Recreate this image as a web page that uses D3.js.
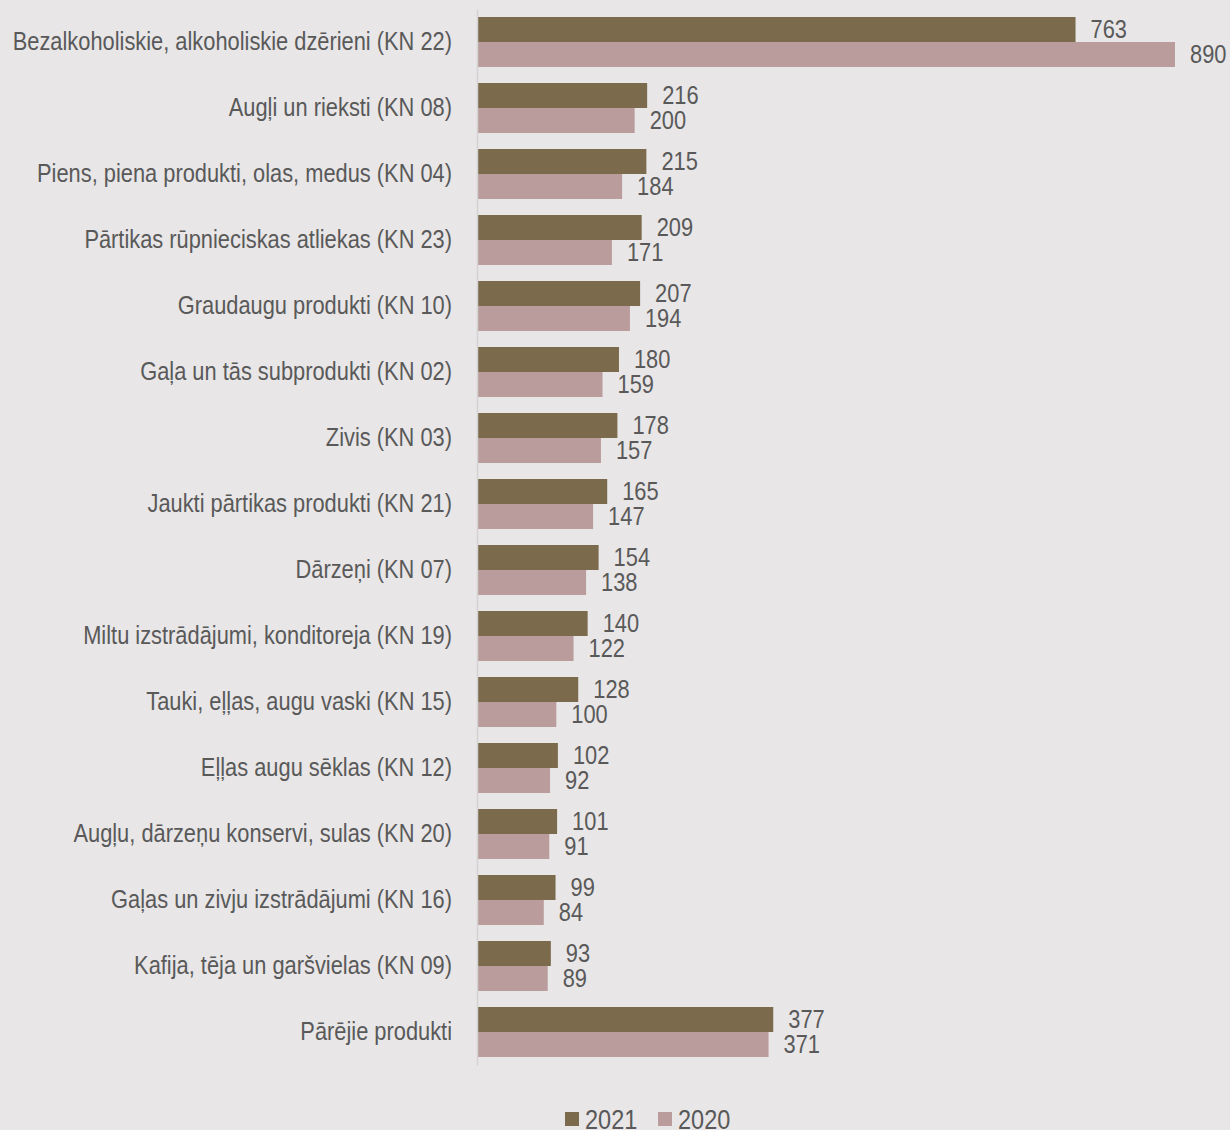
<!DOCTYPE html>
<html>
<head>
<meta charset="utf-8">
<script src="https://cdn.jsdelivr.net/npm/d3@7"></script>
<style>
  body { margin: 0; background: #e8e6e7; }
  svg { display: block; }
  text { font-family: "Liberation Sans", Arial, sans-serif; fill: #595959; }
</style>
</head>
<body>
<div id="chart"></div>
<script>
// eksports pa produktu grupām, 2021 vs 2020

const WIDTH = 1230;
const HEIGHT = 1130;
const MARGINS = {left: 478, top: 9, right: 55, bottom: 65};
const NARROW = 0.84;  // no Arial Narrow here, squeeze Liberation Sans instead

const categories = [
  "Bezalkoholiskie, alkoholiskie dzērieni (KN 22)",
  "Augļi un rieksti (KN 08)",
  "Piens, piena produkti, olas, medus (KN 04)",
  "Pārtikas rūpnieciskas atliekas (KN 23)",
  "Graudaugu produkti (KN 10)",
  "Gaļa un tās subprodukti (KN 02)",
  "Zivis (KN 03)",
  "Jaukti pārtikas produkti (KN 21)",
  "Dārzeņi (KN 07)",
  "Miltu izstrādājumi, konditoreja (KN 19)",
  "Tauki, eļļas, augu vaski (KN 15)",
  "Eļļas augu sēklas (KN 12)",
  "Augļu, dārzeņu konservi, sulas (KN 20)",
  "Gaļas un zivju izstrādājumi (KN 16)",
  "Kafija, tēja un garšvielas (KN 09)",
  "Pārējie produkti"
];
const values2021 = [763, 216, 215, 209, 207, 180, 178, 165, 154, 140, 128, 102, 101, 99, 93, 377];
const values2020 = [890, 200, 184, 171, 194, 159, 157, 147, 138, 122, 100, 92, 91, 84, 89, 371];
const seriesNames = ["2021", "2020"];
const colors = {"2021": "#7b6a4c", "2020": "#ba9c9d"};

const rows = categories.map((c, i) => ({cat: c, "2021": values2021[i], "2020": values2020[i]}));

const svg = d3.select("#chart").append("svg")
  .attr("width", WIDTH)
  .attr("height", HEIGHT);

const x = d3.scaleLinear()
  .domain([0, 890])
  .range([MARGINS.left, 1175]);

const y0 = d3.scaleBand()
  .domain(categories)
  .range([MARGINS.top, HEIGHT - MARGINS.bottom]);

const y1 = d3.scaleBand()
  .domain(seriesNames)
  .range([8, y0.bandwidth() - 8]);

const groups = svg.selectAll(".row")
  .data(rows)
  .enter()
  .append("g")
    .attr("class", "row")
    .attr("transform", d => "translate(0," + y0(d.cat) + ")");

groups.selectAll("rect")
  .data(d => seriesNames.map(s => ({s: s, v: d[s]})))
  .enter()
  .append("rect")
    .attr("x", x(0))
    .attr("y", d => y1(d.s))
    .attr("width", d => x(d.v) - x(0))
    .attr("height", y1.bandwidth())
    .attr("fill", d => colors[d.s]);

groups.selectAll(".val")
  .data(d => seriesNames.map(s => ({s: s, v: d[s]})))
  .enter()
  .append("text")
    .attr("class", "val")
    .attr("transform", d => "translate(" + (x(d.v) + 15) + "," + (y1(d.s) + y1.bandwidth() / 2 - 1) + ") scale(" + NARROW + ",1)")
    .attr("dy", "0.35em")
    .attr("font-size", "26px")
    .text(d => d.v);

// category axis
const yAxis = svg.append("g")
  .attr("transform", "translate(" + (x(0) - 1) + ",0)")
  .call(d3.axisLeft(y0).tickSize(0).tickPadding(24));
yAxis.select(".domain").attr("stroke", "#d4d2d3").attr("stroke-width", 1.5);
yAxis.selectAll("text")
  .attr("x", -25 / NARROW)
  .attr("transform", "scale(" + NARROW + ",1)")
  .attr("font-size", "26px")
  .style("font-family", "'Liberation Sans', Arial, sans-serif")
  .attr("fill", "#595959");

// legend
const legend = svg.append("g")
  .attr("transform", "translate(565,1119)");
const items = legend.selectAll("g")
  .data(seriesNames)
  .enter()
  .append("g")
    .attr("transform", (d, i) => "translate(" + (i * 93) + ",0)");
items.append("rect")
  .attr("x", 0).attr("y", -7)
  .attr("width", 14).attr("height", 14)
  .attr("fill", d => colors[d]);
items.append("text")
  .attr("transform", "translate(20,0) scale(" + NARROW + ",1)")
  .attr("dy", "0.35em")
  .attr("font-size", "28px")
  .text(d => d);
</script>
</body>
</html>
